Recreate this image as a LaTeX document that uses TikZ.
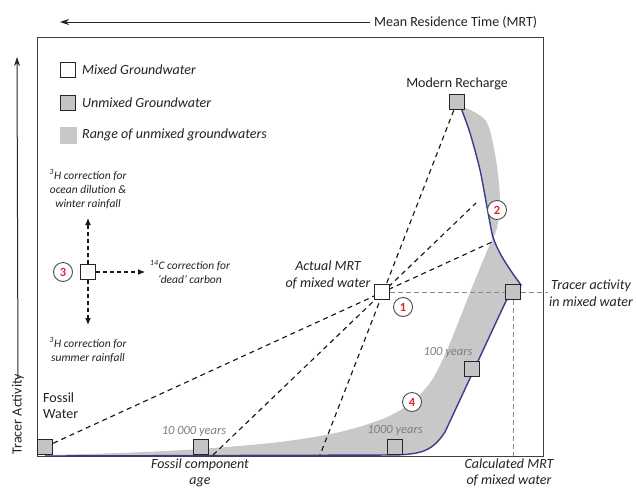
\documentclass[tikz,border=0pt]{standalone}
\usepackage{fontspec}
\setmainfont{Carlito}
\usetikzlibrary{arrows.meta}
\definecolor{bandgray}{HTML}{C8C8C8}
\definecolor{sqgray}{HTML}{C4C4C4}
\definecolor{curveblue}{HTML}{3B3B8C}
\definecolor{txt}{HTML}{222222}
\definecolor{yeargray}{HTML}{7F7F7F}
\definecolor{numred}{HTML}{E3262E}
\begin{document}
\begin{tikzpicture}[x=1pt,y=-1pt,
 mixsq/.style={draw=black!85, line width=1.3pt, fill=white, minimum size=15.5pt, inner sep=0pt},
 unmixsq/.style={mixsq, fill=sqgray},
 num/.style={circle, draw=black!70, line width=0.9pt, fill=white, minimum size=19pt, inner sep=0pt, text=numred, font=\fontsize{12.5}{12.5}\selectfont\bfseries},
 lbl/.style={text=txt, font=\fontsize{14}{16}\selectfont, align=center, inner sep=0pt},
 ilbl/.style={text=txt, font=\fontsize{14}{16.5}\selectfont\itshape, align=center, inner sep=0pt},
 small/.style={text=txt, font=\fontsize{11.5}{14}\selectfont\itshape, align=center, inner sep=0pt},
 year/.style={text=yeargray, font=\fontsize{12.5}{14}\selectfont\itshape, inner sep=0pt},
 mixline/.style={draw=black!90, line width=1.15pt, dash pattern=on 5pt off 4pt},
 guide/.style={draw=black!45, line width=0.8pt, dash pattern=on 5pt off 3pt},
 corr/.style={draw=black!90, line width=1.1pt, dash pattern=on 4pt off 3pt, -{Latex[length=7pt,width=6pt]}},
 axis/.style={draw=black!85, line width=1pt, -{Stealth[length=9pt,width=6pt]}}
]
\useasboundingbox (0,0) rectangle (636,490);

% grey band of unmixed groundwaters
\fill[bandgray] plot[smooth] coordinates {(461,106) (486,121) (496,160) (500,200) (497,228) (492,240)}
  -- plot[smooth] coordinates {(492,240) (487,207) (480,170) (470,133) (461,108)} -- cycle;
\fill[bandgray] plot[smooth] coordinates {(493,237) (482,263) (473,285) (460,318) (447,350) (432,380) (412,402) (385,418) (340,432) (280,442) (200,449) (120,453) (45,455)}
  -- (45,456) -- (395,455) .. controls (420,454) and (432,452) .. (445,432) -- (506,301) -- (521,285)
  -- plot[smooth] coordinates {(521,285) (511,271) (501,255) (493,237)} -- cycle;

% frame
\draw[draw=black!75, line width=0.9pt] (37,37) rectangle (543,456);

% blue curve
\draw[curveblue, line width=1.4pt, line join=round] plot[smooth] coordinates {(461,108) (470,133) (480,170) (487,207) (493,237) (501,255) (511,271) (521,285)}
  -- (506,301) -- (445,432) .. controls (432,452) and (420,454) .. (395,455) -- (45,456);

% axes
\node[lbl, anchor=west] (mrt) at (374,22) {Mean Residence Time (MRT)};
\coordinate (t0) at (60,22);
\draw[axis] ([xshift=-4pt]mrt.west) -- (t0);
\node[lbl, rotate=90] (ta) at (18,414) {Tracer Activity};
\coordinate (v0) at (17,57);
\draw[axis] ([yshift=-5pt]ta.east) -- (v0);

% squares (positions)
\node[unmixsq] (mr) at (457,102) {};
\node[mixsq] (mix) at (382,292) {};
\node[unmixsq] (tr) at (513,292) {};
\node[unmixsq] (y100) at (472,369) {};
\node[unmixsq] (y1k) at (395,447) {};
\node[unmixsq] (y10k) at (201,447) {};
\node[unmixsq] (fos) at (45,447) {};

% guide lines
\coordinate (fr) at (548,292);
\coordinate (fb) at (513,456);
\draw[guide] (mix.east) -- (tr.west);
\draw[guide] (tr.east) -- (fr);
\draw[guide] (tr.south) -- (fb);

% mixing lines
\coordinate (b10k) at (213,455);
\coordinate (bmr) at (320,455);
\coordinate (e1) at (492,242);
\coordinate (e2) at (476,203);
\draw[mixline] (fos.center) -- (e1);
\draw[mixline] (b10k) -- (e2);
\draw[mixline] (mr.center) -- (bmr);

% redraw squares on top
\node[unmixsq] at (mr) {};
\node[mixsq] at (mix) {};
\node[unmixsq] at (tr) {};
\node[unmixsq] at (y100) {};
\node[unmixsq] at (y1k) {};
\node[unmixsq] at (y10k) {};
\node[unmixsq] at (fos) {};

% legend
\node[mixsq] (lg1) at (68,70) {};
\node[unmixsq] (lg2) at (68,103) {};
\node[fill=bandgray, minimum size=17pt, inner sep=0pt] (lg3) at (68,135) {};
\node[ilbl, anchor=west] (lt1) at (82,70) {Mixed Groundwater};
\node[ilbl, anchor=west] (lt2) at (82,103) {Unmixed Groundwater};
\node[ilbl, anchor=west] (lt3) at (82,135) {Range of unmixed groundwaters};

% correction diagram (3)
\node[mixsq] (m3) at (88,272) {};
\coordinate (cu) at (88,218);
\coordinate (cd) at (88,325);
\coordinate (cr) at (145,272);
\draw[corr] (m3.north) -- (cu);
\draw[corr] (m3.south) -- (cd);
\draw[corr] (m3.east) -- (cr);
\node[small] (tu) at (88,189) {\textsuperscript{3}H correction for\\ocean dilution \&\\winter rainfall};
\node[small] (td) at (88,350) {\textsuperscript{3}H correction for\\summer rainfall};
\node[small] (tc) at (190,272) {\textsuperscript{14}C correction for\\‘dead’ carbon};

% numbered circles
\node[num] (n1) at (403,307) {1};
\node[num] (n2) at (497,210) {2};
\node[num] (n3) at (63,272) {3};
\node[num] (n4) at (412,402) {4};

% labels
\node[lbl] (lmr) at (457,84) {Modern Recharge};
\node[ilbl] (lmix) at (328,275) {Actual MRT\\of mixed water};
\node[ilbl] (ltr) at (591,293) {Tracer activity\\in mixed water};
\node[ilbl, font=\fontsize{14}{16}\selectfont\itshape] (lcalc) at (509,472.5) {Calculated MRT\\of mixed water};
\node[ilbl, font=\fontsize{14}{16}\selectfont\itshape] (lfc) at (200,472.5) {Fossil component\\age};
\node[lbl, align=left, anchor=west] (lfw) at (43,406) {Fossil\\Water};
\node[year] (l10k) at (194,431) {10 000 years};
\node[year] (l1k) at (395,430) {1000 years};
\node[year] (l100) at (448,352) {100 years};
\end{tikzpicture}
\end{document}
